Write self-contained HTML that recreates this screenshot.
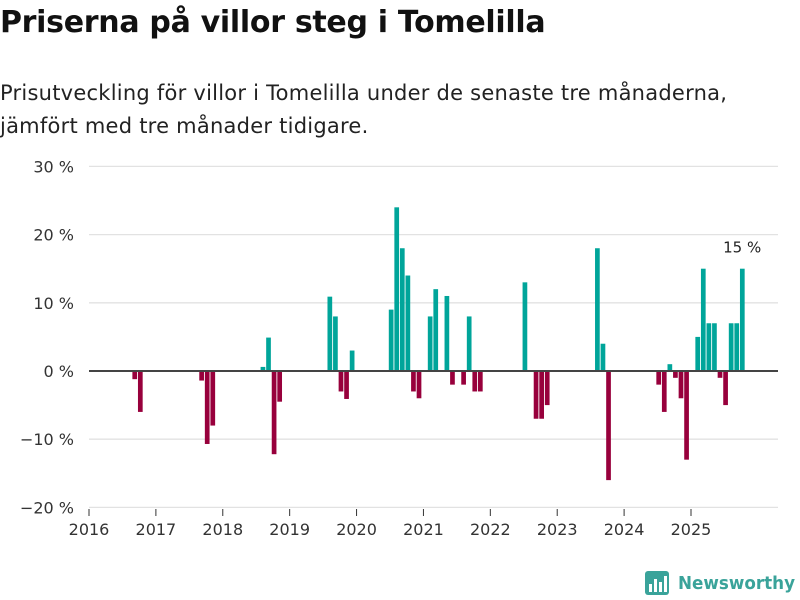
<!DOCTYPE html>
<html><head><meta charset="utf-8"><style>
body{margin:0;background:#fff;font-family:"Liberation Sans","DejaVu Sans",sans-serif;}
#wrap{position:relative;width:800px;height:600px;overflow:hidden;}
h1{position:absolute;left:0;top:5px;margin:0;font-size:30px;font-weight:bold;color:#111;font-family:"DejaVu Sans","Liberation Sans",sans-serif;letter-spacing:-0.3px}
p.sub{position:absolute;left:0;top:77px;margin:0;font-size:21px;line-height:33px;color:#222;font-family:"DejaVu Sans","Liberation Sans",sans-serif;letter-spacing:0.24px;white-space:nowrap}
</style></head><body><div id="wrap">
<h1>Priserna på villor steg i Tomelilla</h1>
<p class="sub">Prisutveckling för villor i Tomelilla under de senaste tre månaderna,<br>jämfört med tre månader tidigare.</p>
<svg id="chart" width="800" height="600" style="position:absolute;left:0;top:0"></svg>
</div>
<script>
const months = ["2016-09","2016-10","2017-09","2017-10","2017-11","2018-08","2018-09","2018-10","2018-11","2019-08","2019-09","2019-10","2019-11","2019-12","2020-07","2020-08","2020-09","2020-10","2020-11","2020-12","2021-02","2021-03","2021-05","2021-06","2021-08","2021-09","2021-10","2021-11","2022-07","2022-09","2022-10","2022-11","2023-08","2023-09","2023-10","2024-07","2024-08","2024-09","2024-10","2024-11","2024-12","2025-02","2025-03","2025-04","2025-05","2025-06","2025-07","2025-08","2025-09","2025-10"];
const values = [-1.2,-6,-1.4,-10.7,-8,0.6,4.9,-12.2,-4.5,10.9,8,-3,-4.1,3,9,24,18,14,-3,-4,8,12,11,-2,-2,8,-3,-3,13,-7,-7,-5,18,4,-16,-2,-6,1,-1,-4,-13,5,15,7,7,-1,-5,7,7,15];
const yTicks = [-20,-10,0,10,20,30];
const xTicks = [2016,2017,2018,2019,2020,2021,2022,2023,2024,2025];
const NS="http://www.w3.org/2000/svg";
const svg=document.getElementById('chart');
const x0=89, pxMonth=5.574, y0=371, pxPct=6.82;
function xPos(idx){return x0+idx*pxMonth;}
function yPos(v){return y0-v*pxPct;}
function idxOf(m){const [y,mo]=m.split('-').map(Number);return (y-2016)*12+(mo-1);}
function mk(tag,attrs){const e=document.createElementNS(NS,tag);for(const k in attrs)e.setAttribute(k,attrs[k]);svg.appendChild(e);return e;}
yTicks.forEach(t=>{
  if(t!==0){const g=mk('line',{x1:89,x2:778,y1:yPos(t),y2:yPos(t),stroke:'#e2e2e2','stroke-width':1.3});
  
  }
  const tx=mk('text',{x:74,y:yPos(t)+6,'text-anchor':'end','font-size':16,fill:'#333','font-family':'DejaVu Sans, Liberation Sans, sans-serif'});
  tx.textContent=(t<0?'\u2212'+(-t):t)+' %';
  
  
});
xTicks.forEach(yr=>{
  const xx=xPos((yr-2016)*12);
  const l=mk('line',{x1:xx,x2:xx,y1:509,y2:516,stroke:'#333','stroke-width':1});
  
  
  const tx=mk('text',{x:xx,y:535,'text-anchor':'middle','font-size':16,fill:'#333','font-family':'DejaVu Sans, Liberation Sans, sans-serif'});
  tx.textContent=yr;
  
  
});
months.forEach((m,i)=>{
  const v=values[i];const idx=idxOf(m);
  const r=mk('rect',{x:xPos(idx)-1.2,width:4.7,y:Math.min(yPos(v),y0),height:Math.abs(yPos(v)-y0),fill:v>=0?'#00a59a':'#98003c'});
  
  
});
const z=mk('line',{x1:89,x2:778,y1:y0,y2:y0,stroke:'#444','stroke-width':2});


const li=values.length-1;
const lab=mk('text',{x:xPos(idxOf(months[li]))+1,y:yPos(values[li])-16,'text-anchor':'middle','font-size':15,fill:'#222','font-family':'DejaVu Sans, Liberation Sans, sans-serif'});
lab.textContent=values[li]+' %';


</script>
<svg style="position:absolute;left:644px;top:570px" width="156" height="30">
<rect x="1" y="1" width="24" height="24" rx="3" fill="#3aa39a"/>
<rect x="5" y="14" width="3" height="8" fill="#fff"/><rect x="10" y="9" width="3" height="13" fill="#fff"/><rect x="15" y="12" width="3" height="10" fill="#fff"/><rect x="20" y="6" width="3" height="16" fill="#fff"/>
<text x="34" y="19" font-size="18" font-weight="bold" fill="#3aa39a" textLength="117" lengthAdjust="spacingAndGlyphs" font-family="DejaVu Sans, Liberation Sans, sans-serif">Newsworthy</text>
</svg>
</body></html>
